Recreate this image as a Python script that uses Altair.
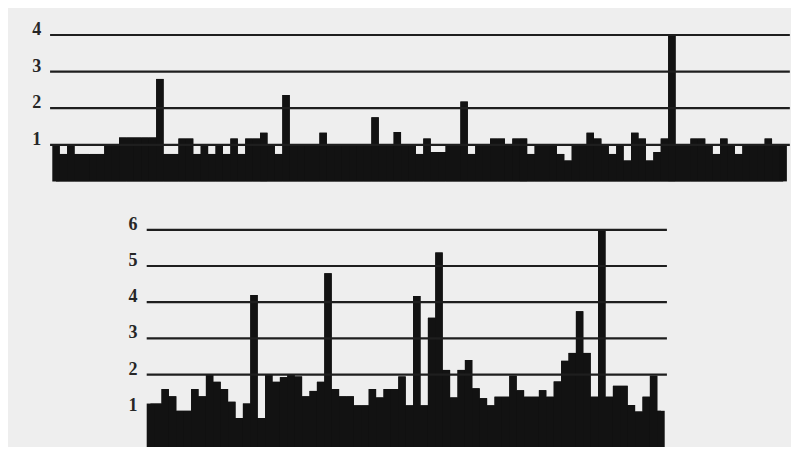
import altair as alt
import pandas as pd

# ---- data ----
top_values = [1.0, 0.75, 1.0, 0.75, 0.75, 0.75, 0.75, 1.0, 1.0, 1.2, 1.2, 1.2, 1.2, 1.2,
              2.8, 0.75, 0.75, 1.17, 1.17, 0.75, 1.0, 0.75, 1.0, 0.75, 1.17, 0.75, 1.17,
              1.17, 1.33, 1.0, 0.75, 2.36, 1.0, 1.0, 1.0, 1.0, 1.33, 1.0, 1.0, 1.0, 1.0,
              1.0, 1.0, 1.75, 1.0, 1.0, 1.35, 1.0, 1.0, 0.75, 1.17, 0.8, 0.8, 1.0, 1.0,
              2.18, 0.75, 1.0, 1.0, 1.17, 1.17, 1.0, 1.17, 1.17, 0.75, 1.0, 1.0, 1.0,
              0.75, 0.57, 1.0, 1.0, 1.33, 1.17, 1.0, 0.75, 1.0, 0.57, 1.33, 1.17, 0.57,
              0.8, 1.17, 4.0, 1.0, 1.0, 1.17, 1.17, 1.0, 0.75, 1.17, 1.0, 0.75, 1.0, 1.0,
              1.0, 1.17, 1.0, 1.0]

bottom_values = [1.2, 1.2, 1.6, 1.4, 1.0, 1.0, 1.6, 1.4, 2.0, 1.8, 1.6, 1.25, 0.8, 1.2,
                 4.2, 0.8, 2.0, 1.8, 1.93, 2.0, 1.95, 1.4, 1.55, 1.8, 4.8, 1.6, 1.4, 1.4,
                 1.15, 1.15, 1.6, 1.37, 1.6, 1.6, 1.95, 1.15, 4.17, 1.15, 3.57, 5.37, 2.13,
                 1.37, 2.13, 2.4, 1.62, 1.35, 1.15, 1.39, 1.39, 1.97, 1.57, 1.39, 1.39,
                 1.57, 1.39, 1.81, 2.38, 2.6, 3.75, 2.6, 1.39, 6.0, 1.39, 1.69, 1.69, 1.16,
                 0.98, 1.39, 1.97, 1.0]

top_grid = [1, 2, 3, 4]
top_labels = ["1", "2", "3", "4"]
bottom_grid = [2, 3, 4, 5, 6]
bottom_label_values = [1, 2, 3, 4, 5, 6]
bottom_labels = ["1", "2", "3", "4", "5", "6"]

# ---- layout constants ----
W = 782
INK = "#121212"
BG = "#eeeeee"
FONT = "Liberation Serif"

TOP_PX = 7.42
TOP_X0 = -(52.3 - 8) / TOP_PX
TOP_H = 182
TOP_UNIT = 36.6
TOP_YMAX = 4 + (35 - 8) / TOP_UNIT
TOP_YMIN = TOP_YMAX - TOP_H / TOP_UNIT

BOT_PX = 7.4
BOT_X0 = -(146.7 - 8) / BOT_PX
BOT_H = 257
BOT_UNIT = 36.2
BOT_YMAX = BOT_H / BOT_UNIT


def panel(values, grid, label_vals, labels, px, x0, h, ymin, ymax, g0, g1, lx):
    n = len(values)
    bars = pd.DataFrame({"i": list(range(n)), "v": values})
    bars["i1"] = bars["i"] + 1
    bars["c"] = bars["i"] + 0.5
    bars["z"] = 0.0
    xs = alt.Scale(domain=[x0, x0 + W / px], nice=False, zero=False)
    ys = alt.Scale(domain=[ymin, ymax], nice=False, zero=False)

    under = alt.Chart(bars).mark_area(
        fill=INK, interpolate="step", opacity=1, fillOpacity=1
    ).encode(
        x=alt.X("c:Q", scale=xs, axis=None),
        y=alt.Y("v:Q", scale=ys, axis=None),
        y2="z:Q",
    )
    bar_layer = alt.Chart(bars).mark_rect(
        fill=INK, opacity=1, fillOpacity=1, strokeWidth=0
    ).encode(
        x=alt.X("i:Q", scale=xs, axis=None),
        x2="i1:Q",
        y=alt.Y("v:Q", scale=ys, axis=None),
        y2="z:Q",
    )
    gdf = pd.DataFrame({"g": grid})
    grid_layer = alt.Chart(gdf).mark_rule(color="#1e1e1e", strokeWidth=2.2).encode(
        x=alt.datum(g0, scale=xs),
        x2=alt.datum(g1),
        y=alt.Y("g:Q", scale=ys, axis=None),
    )
    ldf = pd.DataFrame({"g": label_vals, "t": labels})
    label_layer = alt.Chart(ldf).mark_text(
        font=FONT, fontSize=18, fontWeight="bold", color="#262626", align="center",
        baseline="alphabetic", dy=0,
    ).encode(
        x=alt.datum(lx, scale=xs),
        y=alt.Y("g:Q", scale=ys, axis=None),
        text="t:N",
    )
    return alt.layer(under, bar_layer, grid_layer, label_layer).properties(width=W, height=h)


top = panel(top_values, top_grid, top_grid, top_labels, TOP_PX, TOP_X0, TOP_H,
            TOP_YMIN, TOP_YMAX, -0.3, 99.4, -2.1)
bottom = panel(bottom_values, bottom_grid, bottom_label_values, bottom_labels, BOT_PX,
               BOT_X0, BOT_H, 0, BOT_YMAX, 0.0, 70.3, -1.85)

chart = alt.vconcat(top, bottom, spacing=0).properties(
    padding=0, background=BG
).configure_view(stroke=None)

chart.save("out.html", embed_options={"renderer": "svg", "actions": False})
